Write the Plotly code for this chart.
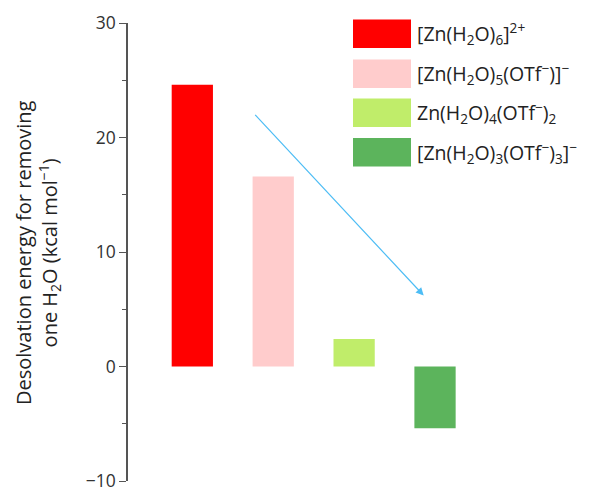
import plotly.graph_objects as go

# ---- data ----
categories = [1, 2, 3, 4]
species = [
    "[Zn(H<sub>2</sub>O)<sub>6</sub>]<sup>2+</sup>",
    "[Zn(H<sub>2</sub>O)<sub>5</sub>(OTf<sup>−</sup>)]<sup>−</sup>",
    "Zn(H<sub>2</sub>O)<sub>4</sub>(OTf<sup>−</sup>)<sub>2</sub>",
    "[Zn(H<sub>2</sub>O)<sub>3</sub>(OTf<sup>−</sup>)<sub>3</sub>]<sup>−</sup>",
]
energies = [24.6, 16.6, 2.4, -5.4]
colors = ["#ff0000", "#ffcccc", "#c0ed6a", "#5cb45c"]
y_ticks = [-10, 0, 10, 20, 30]
arrow_start = (1.76, 22.1)
arrow_end = (3.86, 6.2)

W, H = 590, 487
ML, MR, MT, MB = 128, 0, 23, 6
PW, PH = W - ML - MR, H - MT - MB

def px(x):
    return (x - ML) / PW

def py(y):
    return (H - MB - y) / PH

fig = go.Figure()
fig.add_trace(go.Bar(
    x=categories, y=energies, width=0.51,
    marker=dict(color=colors, line=dict(width=0)),
    showlegend=False,
))

# arrow
fig.add_annotation(
    x=arrow_end[0], y=arrow_end[1], ax=arrow_start[0], ay=arrow_start[1],
    xref="x", yref="y", axref="x", ayref="y",
    showarrow=True, arrowhead=2, arrowsize=1.3, arrowwidth=1.2,
    arrowcolor="#4dbdf5", text="",
)

# legend (manual, large swatches)
box_tops = [19.5, 59.5, 98.5, 138]
for i, (name, c) in enumerate(zip(species, colors)):
    t = box_tops[i]
    b = t + 28.5
    fig.add_shape(type="rect", xref="paper", yref="paper",
                  x0=px(353), x1=px(411), y0=py(b), y1=py(t),
                  fillcolor=c, line=dict(width=0))
    fig.add_annotation(xref="paper", yref="paper", x=px(415), y=py((t + b) / 2),
                       xanchor="left", yanchor="middle", showarrow=False,
                       text=name, font=dict(size=19.5, color="#222"))

# y-axis title
fig.add_annotation(
    xref="paper", yref="paper", x=px(38), y=py(253), textangle=-90,
    showarrow=False, xanchor="center", yanchor="middle",
    text="Desolvation energy for removing<br>one H<sub>2</sub>O (kcal mol<sup>−1</sup>)",
    font=dict(size=20, color="#222"),
)

fig.update_layout(
    width=W, height=H,
    margin=dict(l=ML, r=MR, t=MT, b=MB, pad=0, autoexpand=False),
    plot_bgcolor="white", paper_bgcolor="white",
    font=dict(family="Open Sans", color="#222"),
    xaxis=dict(range=[0.205, 0.205 + PW / 80.9], visible=False, fixedrange=True,
               automargin=False),
    yaxis=dict(
        range=[-10, 30], tickvals=y_ticks, showgrid=False, zeroline=False,
        showline=True, linecolor="#555", linewidth=1.5, automargin=False,
        ticks="outside", ticklen=7, tickwidth=1.3, tickcolor="#555",
        tickfont=dict(size=17.5, color="#333"), ticklabeloverflow="allow",
        minor=dict(dtick=5, tick0=0, ticks="outside", ticklen=4, tickwidth=1.2, tickcolor="#555"),
    ),
)

fig.write_html("out.html")
